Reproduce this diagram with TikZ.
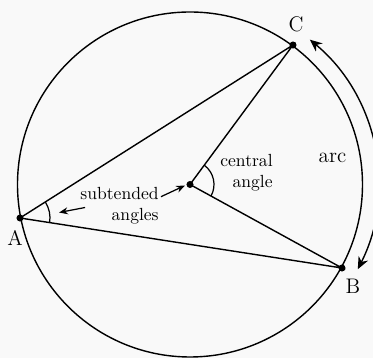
\documentclass[tikz,border=0pt]{standalone}
\usepackage{tikz}
\usetikzlibrary{arrows.meta,calc,angles,positioning}
\definecolor{paper}{RGB}{249,249,249}
\tikzset{
  rim/.style={black,line width=0.8pt},
  chord/.style={black,line width=0.8pt},
  dot/.style={circle,fill=black,inner sep=0pt,minimum size=4pt},
  arcflow/.style={{Stealth[length=7pt,width=6pt]}-{Stealth[length=7pt,width=6pt]},line width=0.8pt},
  pointer/.style={-{Stealth[length=5pt,width=4pt]},line width=0.7pt},
  lab/.style={font=\large,inner sep=0pt},
  note/.style={font=\normalsize,align=right,inner sep=0pt},
  anglemark/.style={draw,line width=0.7pt},
}
\begin{document}
\begin{tikzpicture}[x=0.02cm,y=0.02cm]
  \path[fill=paper,use as bounding box] (-190,-173.5) rectangle (183,184.5);

  \coordinate (O) at (0,0);
  \coordinate (A) at (-170,-33.5);
  \coordinate (B) at (152,-83.5);
  \coordinate (C) at (103,139.5);

  \draw[rim] (O) circle (172.5);
  \draw[chord] (A) -- (C) -- (O) -- (B) -- cycle;

  \pic[anglemark,angle radius=0.48cm] {angle=B--O--C};
  \pic[anglemark,angle radius=0.6cm] {angle=B--A--C};

  \foreach \p in {A,B,C,O}{
    \node[dot] (d\p) at (\p) {};
  }

  \node[lab] (labA) at (-175,-53.5) {A};
  \node[lab] (labB) at (163,-101.5) {B};
  \node[lab] (labC) at (106,160) {C};

  % arc between C and B
  \draw[arcflow] ($(O)+(-26.8:188)$) arc[start angle=-26.8,end angle=50.4,radius=188];
  \node[lab] (arclab) at (142.5,26.5) {arc};

  \node[note,anchor=east] (sub) at (-31,-21) {subtended\\angles};
  \draw[pointer] ($(sub.north east)+(2,-10)$) -- ($(dO)+(-5,-1)$);
  \draw[pointer] ($(sub.west)+(5,-2)$) -- ++(-26,-5);

  \node[note,anchor=east] (cen) at (83,11.5) {central\\angle};
\end{tikzpicture}
\end{document}
